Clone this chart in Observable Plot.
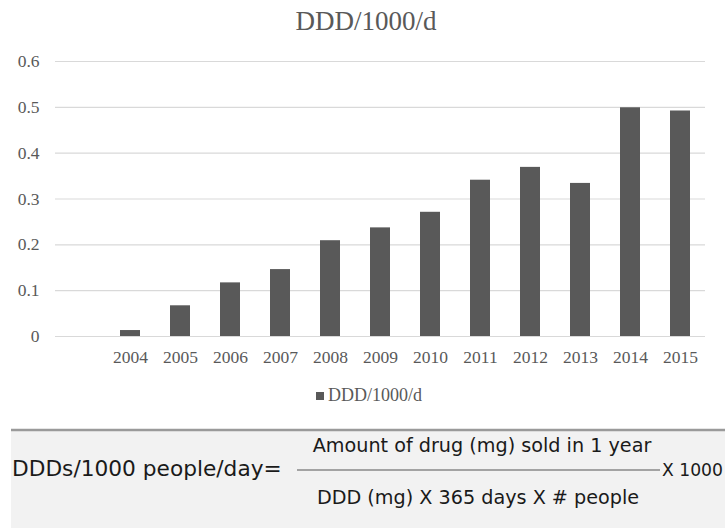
<!DOCTYPE html>
<html>
<head>
<meta charset="utf-8">
<script src="https://cdn.jsdelivr.net/npm/d3@7"></script>
<script src="https://cdn.jsdelivr.net/npm/@observablehq/plot@0.6"></script>
<style>
  html, body { margin: 0; padding: 0; background: #fff; }
  #page { position: relative; width: 725px; height: 528px; overflow: hidden; }
  #title { position: absolute; left: 0; width: 732px; top: 6px; text-align: center;
           font-family: "Liberation Serif", serif; font-size: 27px; color: #595959; }
  #chart { position: absolute; left: 0; top: 0; }
  #legend { position: absolute; left: 316px; top: 379px; }
  #legend svg { margin-right: 4px !important; }
  #formula { position: absolute; left: 0; top: 428px; }
</style>
</head>
<body>
<div id="page">
  <div id="chart"></div>
  <div id="title">DDD/1000/d</div>
  <div id="legend"></div>
  <svg id="formula" width="725" height="100" font-family="DejaVu Sans, Verdana, sans-serif" fill="#1a1a1a">
    <rect x="11" y="3" width="714" height="97" fill="#f2f2f2"></rect>
    <line x1="11" x2="725" y1="2" y2="2" stroke="#9a9a9a" stroke-width="2.5"></line>
    <text x="12" y="48" font-size="21.7">DDDs/1000 people/day=</text>
    <text x="482" y="24" font-size="19.2" text-anchor="middle">Amount of drug (mg) sold in 1 year</text>
    <line x1="297" x2="660" y1="42" y2="42" stroke="#555" stroke-width="1"></line>
    <text x="478" y="76" font-size="19.2" text-anchor="middle">DDD (mg) X 365 days X # people</text>
    <text x="662" y="48" font-size="17.2">X 1000</text>
  </svg>
</div>
<script>
// Annual consumption, DDD per 1000 inhabitants per day
const seriesName = "DDD/1000/d";
const years = ["2004", "2005", "2006", "2007", "2008", "2009", "2010", "2011", "2012", "2013", "2014", "2015"];
const ddd = [0.013, 0.067, 0.117, 0.146, 0.209, 0.237, 0.271, 0.341, 0.369, 0.334, 0.499, 0.492];
const yTicks = [0, 0.1, 0.2, 0.3, 0.4, 0.5, 0.6];
const yTickLabels = ["0", "0.1", "0.2", "0.3", "0.4", "0.5", "0.6"];
// the category axis starts with an empty slot before the first year
const categories = ["", ...years];

const barColor = "#595959";
const data = years.map((year, i) => ({year, value: ddd[i]}));

const chart = Plot.plot({
  width: 725,
  height: 380,
  marginTop: 61,
  marginBottom: 44,
  marginLeft: 55,
  marginRight: 20,
  style: {fontFamily: "Liberation Serif, serif", fontSize: "17.5px", color: "#595959", background: "transparent"},
  x: {domain: categories, paddingInner: 0.6, paddingOuter: 0.3, label: null, tickSize: 0, tickPadding: 14},
  y: {domain: [0, 0.6], ticks: yTicks, tickFormat: (d) => yTickLabels[yTicks.indexOf(d)], label: null, tickSize: 0, tickPadding: 16},
  marks: [
    Plot.ruleY(yTicks, {stroke: "#d9d9d9", strokeWidth: 1.2}),
    Plot.barY(data, {x: "year", y: "value", fill: barColor})
  ]
});
document.getElementById("chart").appendChild(chart);

const legend = Plot.legend({
  color: {type: "ordinal", domain: [seriesName], range: [barColor]},
  swatchSize: 8,
  style: {fontFamily: "Liberation Serif, serif", fontSize: "18px", color: "#595959", background: "transparent"}
});
document.getElementById("legend").appendChild(legend);
</script>
</body>
</html>
